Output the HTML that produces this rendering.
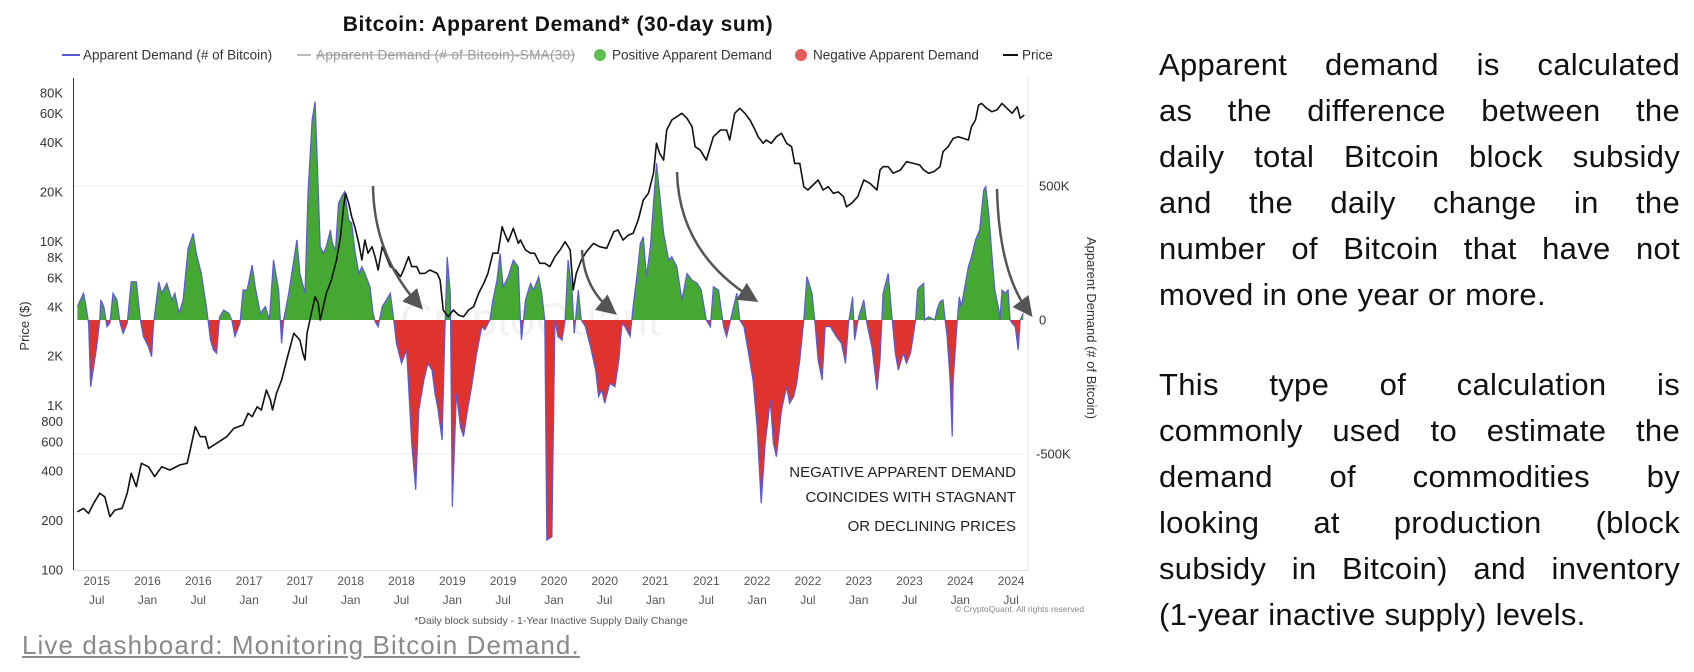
<!DOCTYPE html>
<html><head><meta charset="utf-8"><style>
html,body{margin:0;padding:0;background:#fff;width:1694px;height:672px;overflow:hidden;font-family:"Liberation Sans",sans-serif}
#chart{position:absolute;left:0;top:0}
.para{position:absolute;left:1159px;width:521px;font-family:"Liberation Sans",sans-serif;font-size:31px;letter-spacing:0.3px;color:#111;line-height:46px}
.para div{text-align:justify;text-align-last:justify;white-space:nowrap}
.para div.last{text-align-last:left}
#link{position:absolute;left:22px;top:630px;font-size:26px;color:#8a8a8a;text-decoration:underline;letter-spacing:1.1px;white-space:nowrap}
</style></head><body>
<svg id="chart" width="1694" height="672" xmlns="http://www.w3.org/2000/svg" font-family="Liberation Sans, sans-serif">
<defs>
<clipPath id="clipPos"><rect x="0" y="0" width="1694" height="320"/></clipPath>
<clipPath id="clipNeg"><rect x="0" y="320" width="1694" height="352"/></clipPath>
<marker id="ah" markerWidth="8" markerHeight="8" refX="5" refY="4" orient="auto" markerUnits="strokeWidth"><path d="M0,0 L8,4 L0,8 Z" fill="#555"/></marker>
</defs>
<text x="558" y="31" text-anchor="middle" font-size="21" letter-spacing="0.6" font-weight="bold" fill="#111">Bitcoin: Apparent Demand* (30-day sum)</text>
<g font-size="13.5" fill="#333">
<g><line x1="62" y1="55" x2="80" y2="55" stroke="#5a5ad8" stroke-width="2"/><text x="83" y="59.5">Apparent Demand (# of Bitcoin)</text></g>
<g><line x1="297" y1="55" x2="311" y2="55" stroke="#bbb" stroke-width="2"/><text x="316" y="59.5" fill="#999" textLength="259">Apparent Demand (# of Bitcoin)-SMA(30)</text><line x1="316" y1="55" x2="575" y2="55" stroke="#999" stroke-width="1"/></g>
<g><circle cx="600" cy="55" r="6" fill="#5cbf4f"/><text x="612" y="59.5">Positive Apparent Demand</text></g>
<g><circle cx="801" cy="55" r="6" fill="#e35b5b"/><text x="813" y="59.5">Negative Apparent Demand</text></g>
<g><line x1="1003" y1="55" x2="1018" y2="55" stroke="#111" stroke-width="2"/><text x="1022" y="59.5">Price</text></g>
</g>
<g id="grid"></g>
<text x="400" y="335" font-size="46" fill="#000" fill-opacity="0.05">CryptoQuant</text>
<g id="demand"></g>
<g id="price"></g>
<line x1="73.5" y1="78" x2="73.5" y2="571" stroke="#333" stroke-width="1"/>
<line x1="1028" y1="78" x2="1028" y2="571" stroke="#e4e4e4" stroke-width="1"/>
<line x1="73" y1="570.5" x2="1028" y2="570.5" stroke="#ddd" stroke-width="1"/>
<g id="leftTicks" font-size="13" fill="#333" text-anchor="end"></g>
<g id="rightTicks" font-size="13" fill="#333"></g>
<g id="xTicks" font-size="12" fill="#555" text-anchor="middle"></g>
<text transform="translate(29,326) rotate(-90)" text-anchor="middle" font-size="13" fill="#333">Price ($)</text>
<text transform="translate(1087,328) rotate(90)" text-anchor="middle" font-size="13" fill="#333">Apparent Demand (# of Bitcoin)</text>
<text x="551" y="624" text-anchor="middle" font-size="10.5" fill="#555">*Daily block subsidy - 1-Year Inactive Supply Daily Change</text>
<text x="955" y="612" font-size="8.5" fill="#888">© CryptoQuant. All rights reserved</text>
<g fill="none" stroke="#555" stroke-width="2.5">
<path d="M373,186 Q374,255 418,304" marker-end="url(#ah)"/>
<path d="M582,250 Q584,288 611,310" marker-end="url(#ah)"/>
<path d="M677,172 Q679,252 752,298" marker-end="url(#ah)"/>
<path d="M997,189 Q999,272 1028,311" marker-end="url(#ah)"/>
</g>
<g font-size="15" fill="#222" text-anchor="end">
<text x="1016" y="477">NEGATIVE APPARENT DEMAND</text>
<text x="1016" y="502">COINCIDES WITH STAGNANT</text>
<text x="1016" y="531">OR DECLINING PRICES</text>
</g>
</svg>

<div class="para" style="top:42px">
<div>Apparent demand is calculated</div>
<div>as the difference between the</div>
<div>daily total Bitcoin block subsidy</div>
<div>and the daily change in the</div>
<div>number of Bitcoin that have not</div>
<div class="last">moved in one year or more.</div>
</div>
<div class="para" style="top:362px">
<div>This type of calculation is</div>
<div>commonly used to estimate the</div>
<div>demand of commodities by</div>
<div>looking at production (block</div>
<div>subsidy in Bitcoin) and inventory</div>
<div class="last">(1-year inactive supply) levels.</div>
</div>
<div id="link">Live dashboard: Monitoring Bitcoin Demand.</div>

<script>
const demDates=[2015.31,2015.34,2015.37,2015.39,2015.42,2015.44,2015.47,2015.50,2015.53,2015.54,2015.57,2015.60,2015.63,2015.66,2015.70,2015.73,2015.76,2015.80,2015.84,2015.89,2015.93,2015.96,2016.01,2016.04,2016.06,2016.11,2016.14,2016.19,2016.24,2016.27,2016.31,2016.35,2016.40,2016.45,2016.48,2016.53,2016.58,2016.62,2016.65,2016.68,2016.71,2016.75,2016.80,2016.83,2016.86,2016.91,2016.94,2016.98,2017.03,2017.06,2017.11,2017.16,2017.20,2017.24,2017.29,2017.32,2017.34,2017.39,2017.44,2017.47,2017.50,2017.55,2017.58,2017.62,2017.65,2017.67,2017.70,2017.73,2017.76,2017.80,2017.82,2017.85,2017.88,2017.91,2017.94,2017.98,2018.01,2018.04,2018.08,2018.11,2018.14,2018.19,2018.22,2018.24,2018.27,2018.31,2018.35,2018.39,2018.42,2018.45,2018.50,2018.55,2018.60,2018.64,2018.67,2018.72,2018.76,2018.80,2018.83,2018.86,2018.90,2018.93,2018.95,2018.98,2019.00,2019.04,2019.08,2019.11,2019.15,2019.19,2019.24,2019.29,2019.32,2019.37,2019.40,2019.44,2019.47,2019.50,2019.55,2019.60,2019.65,
2019.67,2019.68,2019.72,2019.77,2019.80,2019.85,2019.88,2019.91,2019.93,2019.98,2020.01,2020.04,2020.08,2020.11,2020.14,2020.18,2020.20,2020.24,2020.27,2020.31,2020.36,2020.41,2020.44,2020.47,2020.50,2020.55,2020.60,2020.64,2020.67,2020.70,2020.75,2020.78,2020.82,2020.85,2020.88,2020.91,2020.95,2020.98,2021.01,2021.04,2021.08,2021.13,2021.16,2021.21,2021.26,2021.31,2021.36,2021.41,2021.45,2021.50,2021.54,2021.57,2021.62,2021.67,2021.70,2021.73,2021.80,2021.83,2021.87,2021.91,2021.96,2022.00,2022.04,2022.08,2022.13,2022.16,2022.19,2022.24,2022.29,2022.32,2022.36,2022.39,2022.42,2022.46,2022.49,2022.54,2022.57,2022.60,2022.64,2022.67,2022.72,2022.78,2022.83,2022.87,2022.90,2022.94,2022.96,2023.00,2023.05,2023.08,2023.13,2023.18,2023.21,2023.24,2023.29,2023.33,2023.36,2023.39,2023.44,
2023.47,2023.51,2023.54,2023.56,2023.58,2023.60,2023.64,2023.65,2023.69,2023.72,2023.75,2023.77,2023.80,2023.83,2023.85,2023.87,2023.90,2023.92,2023.93,2023.97,2023.99,2024.01,2024.05,2024.08,2024.11,2024.15,2024.19,2024.23,2024.25,2024.28,2024.31,2024.34,2024.38,2024.39,2024.41,2024.44,2024.47,2024.49,2024.51,2024.54,2024.57,2024.59,2024.62];
const demValues=[50,75,100,62,-12,-249,-174,-100,0,75,50,-25,-12,100,75,-12,-50,-12,143,143,0,-62,-100,-137,-12,143,100,137,75,100,25,75,267,323,249,174,50,-75,-112,-124,12,37,25,0,-62,-12,112,112,205,124,25,50,0,224,112,-87,0,100,224,299,174,100,473,746,815,597,274,249,274,336,286,261,435,460,479,373,361,261,174,199,174,124,25,-6,-25,50,75,100,12,-87,-162,-112,-460,-634,-336,-224,-162,-187,-274,-336,-448,0,236,100,-697,-274,-398,-435,-336,-249,-124,-25,-37,0,75,149,249,124,162,224,199,
0,-75,75,137,112,162,100,0,-821,-809,0,-62,-75,0,224,100,-50,112,0,-25,-100,-187,-286,-261,-311,-236,-249,-149,-12,-25,-62,50,174,286,311,162,274,435,585,473,323,224,236,199,75,174,149,137,112,0,-25,124,112,-25,-62,-12,100,0,-25,-112,-224,-398,-684,-460,-299,-460,-510,-336,-249,-311,-286,-236,-149,0,162,100,-12,-149,-224,-25,-25,-62,-87,-162,-12,87,-75,12,75,-12,-100,-261,-149,100,174,0,-124,-187,-124,
-162,-124,-50,0,112,124,137,0,12,6,0,37,68,75,0,-62,-224,-435,-224,0,87,50,137,199,236,299,336,485,498,398,249,112,37,0,112,100,112,0,-12,-25,-112,0,25];
const priceDates=[2015.31,2015.37,2015.42,2015.47,2015.53,2015.58,2015.63,2015.68,2015.75,2015.80,2015.84,2015.89,2015.94,2016.01,2016.07,2016.14,2016.22,2016.32,2016.39,2016.42,2016.47,2016.52,2016.57,2016.60,2016.68,2016.78,2016.85,2016.94,2016.99,2017.03,2017.08,2017.12,2017.17,2017.21,2017.23,2017.27,2017.32,2017.37,2017.44,2017.50,2017.53,2017.55,2017.57,2017.62,2017.65,2017.68,2017.70,2017.73,2017.76,2017.81,2017.86,2017.90,2017.93,2017.95,2017.98,2018.01,2018.04,2018.08,2018.11,2018.14,2018.17,2018.21,2018.24,2018.27,2018.31,2018.35,2018.39,2018.44,2018.49,2018.52,2018.57,2018.60,2018.65,2018.68,2018.73,2018.78,2018.85,2018.88,2018.91,2018.96,2019.01,2019.06,2019.11,2019.16,2019.21,2019.26,2019.31,2019.35,2019.40,2019.45,2019.49,2019.52,2019.55,2019.60,2019.65,
2019.67,2019.72,2019.77,2019.81,2019.86,2019.91,2019.96,2020.01,2020.06,2020.11,2020.16,2020.19,2020.22,2020.27,2020.32,2020.39,2020.45,2020.52,2020.59,2020.63,2020.68,2020.73,2020.78,2020.83,2020.88,2020.93,2020.98,2021.01,2021.04,2021.08,2021.11,2021.16,2021.21,2021.26,2021.31,2021.36,2021.39,2021.44,2021.50,2021.57,2021.64,2021.70,2021.73,2021.78,2021.83,2021.88,2021.93,2021.98,2022.01,2022.06,2022.09,2022.14,2022.19,2022.24,2022.29,2022.34,2022.37,2022.42,2022.46,2022.50,2022.55,2022.60,2022.65,2022.70,2022.75,2022.80,2022.85,2022.88,2022.93,2022.99,2023.05,2023.11,2023.18,2023.21,2023.24,2023.29,2023.34,2023.41,
2023.47,2023.54,2023.60,2023.64,2023.69,2023.74,2023.80,2023.83,2023.88,2023.93,2023.98,2024.03,2024.08,2024.11,2024.15,2024.18,2024.21,2024.26,2024.31,2024.36,2024.41,2024.46,2024.51,2024.56,2024.59,2024.63];
const priceValues=[226,237,221,255,293,279,211,232,237,293,388,322,446,425,370,425,406,436,446,538,745,648,648,550,590,648,728,763,899,857,986,942,1246,1083,942,1190,1433,1897,2757,2512,2084,1897,2757,3822,4610,4200,3324,4006,4833,5823,7709,10680,16250,19630,17060,14130,12290,9730,7709,10200,8470,9290,8070,6700,9290,8070,7020,6700,6100,6700,8070,7020,7020,6390,6390,6700,6390,5823,3822,3480,3822,3565,3480,3822,4006,4833,5560,6390,8470,8470,12290,11000,9960,12020,9730,
10200,8870,8470,8470,7360,7360,7020,8070,8870,9960,8870,5060,6390,7709,8650,9730,9290,9080,11460,11730,10200,10900,11200,13490,17870,19630,25960,39540,34360,31270,47640,54800,57410,60240,56110,49890,37700,35970,31270,43360,47640,47640,41400,60240,64570,60240,54800,47640,43360,39540,41400,39540,43360,45500,39540,37700,29850,29850,21530,20560,22030,23650,20560,21530,19630,20000,18710,16250,17060,18710,23650,22560,20560,27210,28500,28500,26000,27210,
30550,29850,29170,27210,25960,26600,28500,35160,37700,42370,43360,42370,41400,49890,54800,67610,69200,64570,61600,63100,69200,64570,60240,66070,56110,58750];
const priceTickValues=[100,200,400,600,800,1000,2000,4000,6000,8000,10000,20000,40000,60000,80000];
const priceTickLabels=["100","200","400","600","800","1K","2K","4K","6K","8K","10K","20K","40K","60K","80K"];
const demandTickValues=[500,0,-500];
const demandTickLabels=["500K","0","-500K"];
const xTickYears=["2015","2016","2016","2017","2017","2018","2018","2019","2019","2020","2020","2021","2021","2022","2022","2023","2023","2024","2024"];
const xTickMonths=["Jul","Jan","Jul","Jan","Jul","Jan","Jul","Jan","Jul","Jan","Jul","Jan","Jul","Jan","Jul","Jan","Jul","Jan","Jul"];

const NS="http://www.w3.org/2000/svg";
function xS(t){return 96.7+(t-2015.5)*101.6;}
function yP(p){return 570-Math.log10(p/100)*164.3;}
function yD(v){return 320-v*134/500;}
function tickTime(i){return 2015.5+i*0.5;}
function mk(tag,attrs,parent){const e=document.createElementNS(NS,tag);for(const k in attrs)e.setAttribute(k,attrs[k]);parent.appendChild(e);return e;}

const grid=document.getElementById('grid');
demandTickValues.forEach(v=>{if(v!==0){const l=mk('line',{x1:74,x2:1028,y1:yD(v),y2:yD(v),stroke:'#efefef','stroke-width':1},grid);

}});

const dg=document.getElementById('demand');
let pts=demDates.map((t,i)=>xS(t).toFixed(1)+','+yD(demValues[i]).toFixed(1));
const x0=xS(demDates[0]).toFixed(1),x1=xS(demDates[demDates.length-1]).toFixed(1);
const areaD='M'+x0+',320 L'+pts.join(' L')+' L'+x1+',320 Z';
const pos=mk('path',{d:areaD,fill:'#45a833','clip-path':'url(#clipPos)'},dg);


const neg=mk('path',{d:areaD,fill:'#e0332e','clip-path':'url(#clipNeg)'},dg);


const dl=mk('path',{d:'M'+pts.join(' L'),fill:'none',stroke:'#5a5ad8','stroke-width':1.2},dg);



const pg=document.getElementById('price');
const pp=priceDates.map((t,i)=>xS(t).toFixed(1)+','+yP(priceValues[i]).toFixed(1));
const pl=mk('path',{d:'M'+pp.join(' L'),fill:'none',stroke:'#111','stroke-width':1.6,'stroke-linejoin':'round'},pg);



const lt=document.getElementById('leftTicks');
priceTickValues.forEach((v,i)=>{const t=mk('text',{x:63,y:yP(v)+4.5},lt);t.textContent=priceTickLabels[i];

});
const rt=document.getElementById('rightTicks');
demandTickValues.forEach((v,i)=>{const t=mk('text',{x:v<0?1036:1039,y:yD(v)+4.5},rt);t.textContent=demandTickLabels[i];

});
const xt=document.getElementById('xTicks');
xTickYears.forEach((y,i)=>{const x=xS(tickTime(i));
const a=mk('text',{x:x,y:585},xt);a.textContent=y;


const b=mk('text',{x:x,y:604},xt);b.textContent=xTickMonths[i];

});
</script>
</body></html>
